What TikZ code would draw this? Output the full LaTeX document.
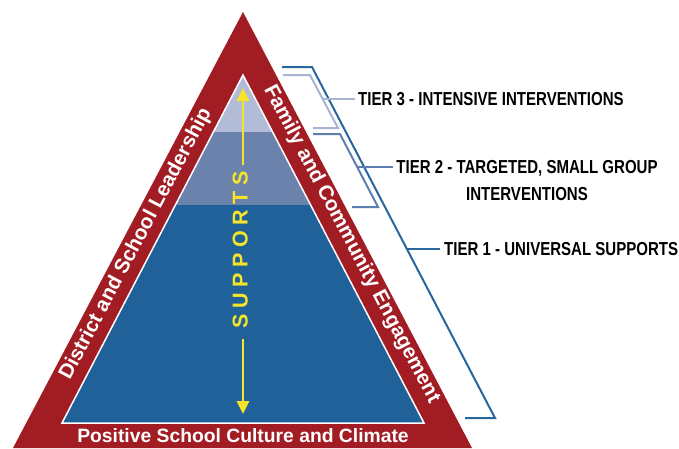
\documentclass[tikz,border=0pt]{standalone}
\usepackage{fontspec}
\setmainfont{Liberation Sans}
\newfontfamily\narrowfont{Liberation Sans}[FakeStretch=0.8]
\usetikzlibrary{arrows.meta,calc}
\definecolor{redband}{RGB}{162,28,36}
\definecolor{tierone}{RGB}{31,97,152}
\definecolor{tiertwo}{RGB}{106,130,172}
\definecolor{tierthree}{RGB}{178,188,214}
\definecolor{brkone}{RGB}{40,102,158}
\definecolor{brktwo}{RGB}{95,126,176}
\definecolor{brkthree}{RGB}{168,180,212}
\definecolor{suppyellow}{RGB}{246,228,40}
\tikzset{
  bandtext/.style={text=white, inner sep=0pt, text height=0.72em, text depth=0pt, font=\bfseries\fontsize{20.6}{20.6}\selectfont},
  tierlabel/.style={inner sep=0pt, text=black, font=\narrowfont\bfseries\fontsize{18.8}{27}\selectfont},
  bracketline/.style={line width=2pt, line join=miter},
  suparrow/.style={draw=suppyellow, line width=2.6pt, -{Triangle[length=13pt,width=12pt]}}
}
\begin{document}
\begin{tikzpicture}[x=1pt,y=-1pt]
\useasboundingbox (0,0) rectangle (679,448);
% outer red triangle
\coordinate (oapex) at (243,12);
\coordinate (oright) at (472,448);
\coordinate (oleft) at (13,448);
\fill[redband] (oapex) -- (oright) -- (oleft) -- cycle;
% inner triangle with tiers
\coordinate (iapex) at (243,75);
\coordinate (iright) at (424,423);
\coordinate (ileft) at (62,423);
\begin{scope}
\clip (iapex) -- (iright) -- (ileft) -- cycle;
\fill[tierone] (0,205) rectangle (679,424);
\fill[tiertwo] (0,132) rectangle (679,205);
\fill[tierthree] (0,60) rectangle (679,132);
\end{scope}
\draw[white, line width=1.5pt, line join=miter] (iapex) -- (iright) -- (ileft) -- cycle;
% band texts
\node[bandtext, font=\bfseries\fontsize{19.3}{19.3}\selectfont] (culture) at (243,438.5) {Positive School Culture and Climate};
\node[bandtext, rotate=62.2] (leadership) at (137.5,245) {District and School Leadership};
\node[bandtext, rotate=-62.2] (family) at (350,245) {Family and Community Engagement};
% supports
\node[rotate=90, text=suppyellow, inner sep=0pt, outer sep=6pt, text height=0.72em, text depth=0pt,
      font=\bfseries\fontsize{21.5}{21.5}\selectfont] (supp) at (244,250)
      {S\hspace{5.6pt}U\hspace{5.6pt}P\hspace{5.6pt}P\hspace{5.6pt}O\hspace{5.6pt}R\hspace{5.6pt}T\hspace{5.6pt}S};
\coordinate (toptip) at (243,88);
\coordinate (bottip) at (243,414);
\draw[suparrow] (supp.east -| toptip) -- (toptip);
\draw[suparrow] ([yshift=-4pt]supp.west -| bottip) -- (bottip);
% tier labels
\node[tierlabel, anchor=west] (tier3) at (358,99) {TIER 3 - INTENSIVE INTERVENTIONS};
\node[tierlabel, align=center] (tier2) at (527,181) {TIER 2 - TARGETED, SMALL GROUP\\INTERVENTIONS};
\node[tierlabel, anchor=west] (tier1) at (444,249) {TIER 1 - UNIVERSAL SUPPORTS};
% bracket tier 1
\coordinate (b1a) at (282,67);
\coordinate (b1b) at (312,67);
\coordinate (b1c) at (495,418);
\coordinate (b1d) at (465,418);
\draw[bracketline, brkone] (b1a) -- (b1b) -- (b1c) -- (b1d);
\coordinate (l1) at ($(b1b)!0.518!(b1c)$);
\draw[bracketline, brkone] (l1) -- ([xshift=-4pt]l1 -| tier1.west);
% bracket tier 3
\coordinate (b3a) at (283,75);
\coordinate (b3b) at (310,75);
\coordinate (b3c) at (338,128);
\coordinate (b3d) at (313,128);
\draw[bracketline, brkthree] (b3a) -- (b3b) -- (b3c) -- (b3d);
\coordinate (l3) at ($(b3b)!0.45!(b3c)$);
\draw[bracketline, brkthree] (l3) -- ([xshift=-3pt]l3 -| tier3.west);
% bracket tier 2
\coordinate (b2a) at (313,134);
\coordinate (b2b) at (340,134);
\coordinate (b2c) at (378,207);
\coordinate (b2d) at (352,207);
\draw[bracketline, brktwo] (b2a) -- (b2b) -- (b2c) -- (b2d);
\coordinate (l2) at ($(b2b)!0.45!(b2c)$);
\draw[bracketline, brktwo] (l2) -- ([xshift=-3pt]l2 -| tier2.west);
\end{tikzpicture}
\end{document}
